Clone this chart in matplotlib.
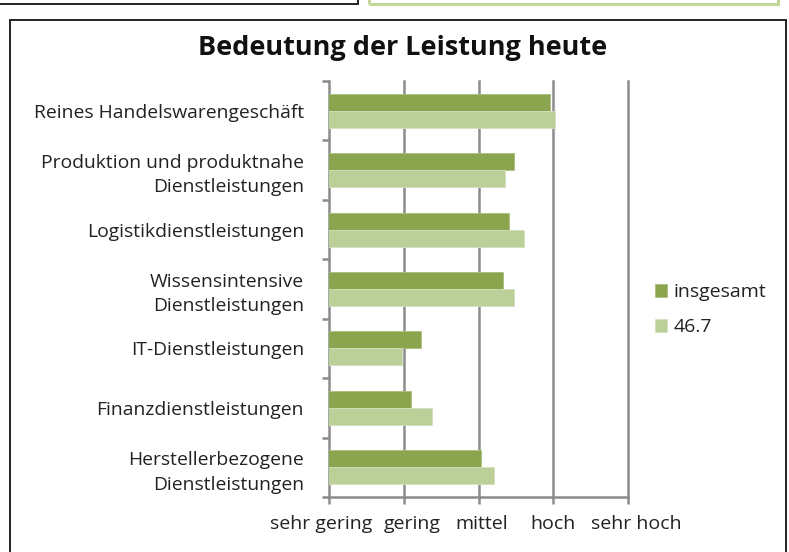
import matplotlib
matplotlib.use('Agg')
import matplotlib.pyplot as plt
from matplotlib.patches import Rectangle
from matplotlib.transforms import ScaledTranslation
import numpy as np

# ── Data ──
categories = [
    "Reines Handelswarengeschäft",
    "Produktion und produktnahe\nDienstleistungen",
    "Logistikdienstleistungen",
    "Wissensintensive\nDienstleistungen",
    "IT-Dienstleistungen",
    "Finanzdienstleistungen",
    "Herstellerbezogene\nDienstleistungen",
]
insgesamt = [3.96, 3.47, 3.41, 3.33, 2.23, 2.10, 3.03]
gruppe_467 = [4.03, 3.35, 3.61, 3.48, 1.97, 2.38, 3.21]
series_names = ["insgesamt", "46.7"]
scale_labels = ["sehr gering", "gering", "mittel", "hoch", "sehr hoch"]
scale_values = [1, 2, 3, 4, 5]
# horizontal nudge (px) so neighbouring scale labels don't collide
label_shift = [-8, 8, 3, 0, 8]

DARK = "#8BA54F"
LIGHT = "#BBCF98"
GRID = "#8C8C8C"

plt.rcParams['font.family'] = ['Open Sans', 'DejaVu Sans']

fig = plt.figure(figsize=(7.89, 5.52), dpi=100)
W, H = 789, 552

# frame pieces around the chart
fig.patches.append(Rectangle((10 / W, -0.05), 776 / W, 1.05 - 20 / H,
                             transform=fig.transFigure, fill=False,
                             edgecolor="#222222", linewidth=1.4))
fig.patches.append(Rectangle((-0.05, 1 - 4 / H), 0.05 + 358 / W, 0.2,
                             transform=fig.transFigure, fill=False,
                             edgecolor="#222222", linewidth=1.4))
fig.patches.append(Rectangle((369 / W, 1 - 4 / H), 409 / W, 0.2,
                             transform=fig.transFigure, fill=False,
                             edgecolor="#C4D79B", linewidth=2.2))

ax = fig.add_axes([329 / W, 1 - 497 / H, (628 - 329) / W, (497 - 81) / H])

y = np.arange(len(categories))
h = 0.286
ax.barh(y - h / 2, insgesamt, height=h, left=0, color=DARK,
        edgecolor="#A9BF7C", linewidth=0.6, label=series_names[0], zorder=3)
ax.barh(y + h / 2, gruppe_467, height=h, left=0, color=LIGHT,
        edgecolor="#D3E0BC", linewidth=0.6, label=series_names[1], zorder=3)

ax.set_xlim(1, 5)
ax.set_ylim(len(categories) - 0.5, -0.5)

# category axis: ticks between groups, labels at centers
ax.set_yticks(np.arange(-0.5, len(categories)))
ax.set_yticklabels([])
ax.set_yticks(y, minor=True)
ax.set_yticklabels(categories, minor=True, fontsize=13.9, color="#222222",
                   linespacing=1.45)
ax.tick_params(axis='y', which='major', direction='out', length=5,
               width=1.8, color=GRID)
ax.tick_params(axis='y', which='minor', length=0, pad=18)

ax.set_xticks(scale_values)
ax.set_xticklabels(scale_labels, fontsize=14, color="#222222")
ax.tick_params(axis='x', direction='out', length=5, width=1.8, color=GRID,
               pad=8)
for lab, dx in zip(ax.get_xticklabels(), label_shift):
    lab.set_transform(lab.get_transform()
                      + ScaledTranslation(dx / 100, 0, fig.dpi_scale_trans))

for v in scale_values[1:]:
    ax.axvline(v, color=GRID, linewidth=1.8, zorder=1, clip_on=False)

for side in ["top", "right"]:
    ax.spines[side].set_visible(False)
for side in ["left", "bottom"]:
    ax.spines[side].set_color(GRID)
    ax.spines[side].set_linewidth(1.8)

fig.text(403 / W, 1 - 48 / H, "Bedeutung der Leistung heute",
         ha="center", va="center", fontsize=19.5, fontweight="bold",
         color="#111111")

leg = fig.legend(loc="upper left", bbox_to_anchor=(637 / W, 1 - 266 / H),
                 frameon=False, fontsize=14, handlelength=0.65,
                 handleheight=0.65, handletextpad=0.35, labelspacing=0.85)
for t in leg.get_texts():
    t.set_color("#222222")

fig.savefig("out.png", dpi=100)
